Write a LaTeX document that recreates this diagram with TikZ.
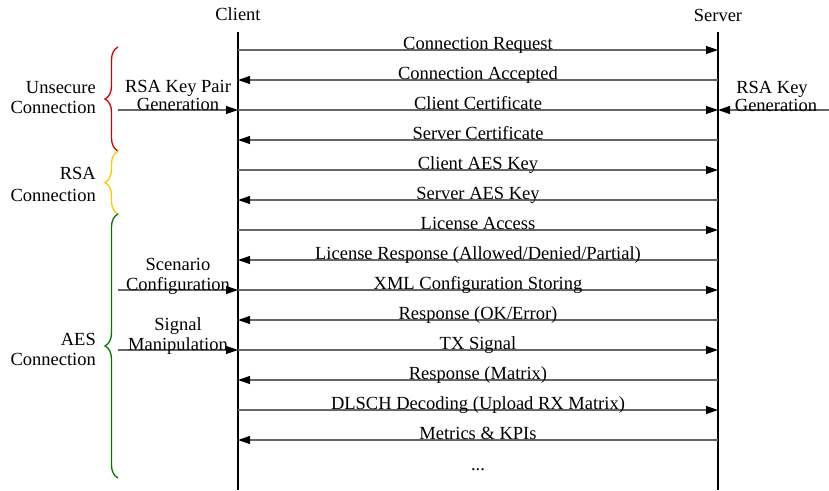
\documentclass[tikz,border=0pt]{standalone}
\usepackage{fontspec}
\setmainfont{Liberation Serif}
\usetikzlibrary{arrows.meta,decorations.pathreplacing}
\begin{document}
\begin{tikzpicture}[x=1pt,y=-1pt,
  lbl/.style={font=\fontsize{18.5}{21}\selectfont, inner sep=0pt},
  msglbl/.style={lbl, midway, anchor=base, yshift=1pt},
  msg/.style={draw=black!60, line width=1.1pt, -{Triangle[length=12pt,width=8pt,color=black]}},
  lifeline/.style={draw=black, line width=1.1pt},
  bracebase/.style={decorate, line width=1.3pt, decoration={brace, amplitude=13pt}}]
\useasboundingbox (0,0) rectangle (829,490);

% lifelines
\node[lbl, anchor=base] (client) at (238,20) {Client};
\node[lbl, anchor=base] (server) at (718,21) {Server};
\coordinate (ctop) at (238,32); \coordinate (cbot) at (238,490);
\coordinate (stop) at (718,32); \coordinate (sbot) at (718,490);
\draw[lifeline] (ctop) -- (cbot);
\draw[lifeline] (stop) -- (sbot);

% message anchor points
\foreach \i/\y in {1/50,2/80,3/110,4/140,5/170,6/200,7/230,8/260,9/290,10/320,11/350,12/380,13/410,14/440}{
  \coordinate (c\i) at (238,\y);
  \coordinate (s\i) at (718,\y);
}

\draw[msg] (c1) -- node[msglbl] (m1) {Connection Request} (s1);
\draw[msg] (s2) -- node[msglbl] (m2) {Connection Accepted} (c2);
\draw[msg] (c3) -- node[msglbl] (m3) {Client Certificate} (s3);
\draw[msg] (s4) -- node[msglbl] (m4) {Server Certificate} (c4);
\draw[msg] (c5) -- node[msglbl] (m5) {Client AES Key} (s5);
\draw[msg] (s6) -- node[msglbl] (m6) {Server AES Key} (c6);
\draw[msg] (c7) -- node[msglbl] (m7) {License Access} (s7);
\draw[msg] (s8) -- node[msglbl] (m8) {License Response (Allowed/Denied/Partial)} (c8);
\draw[msg] (c9) -- node[msglbl] (m9) {XML Configuration Storing} (s9);
\draw[msg] (s10) -- node[msglbl] (m10) {Response (OK/Error)} (c10);
\draw[msg] (c11) -- node[msglbl] (m11) {TX Signal} (s11);
\draw[msg] (s12) -- node[msglbl] (m12) {Response (Matrix)} (c12);
\draw[msg] (c13) -- node[msglbl] (m13) {DLSCH Decoding (Upload RX Matrix)} (s13);
\draw[msg] (s14) -- node[msglbl] (m14) {Metrics \& KPIs} (c14);
\node[lbl, anchor=base] (dots) at (478,470) {...};

% side inputs
\coordinate (inA) at (118,110);
\coordinate (inB) at (118,290);
\coordinate (inC) at (118,350);
\coordinate (inS) at (829,110);
\draw[msg] (inA) -- (c3);
\draw[msg] (inB) -- (c9);
\draw[msg] (inC) -- (c11);
\draw[msg] (inS) -- (s3);
\node[lbl, anchor=base] (ka1) at (178,92) {RSA Key Pair};
\node[lbl, anchor=base] (ka2) at (178,110) {Generation};
\node[lbl, anchor=base] (sc1) at (178,270) {Scenario};
\node[lbl, anchor=base] (sc2) at (178,290) {Configuration};
\node[lbl, anchor=base] (sg1) at (178,330) {Signal};
\node[lbl, anchor=base] (sg2) at (178,350) {Manipulation};
\node[lbl, anchor=base] (ks1) at (772,93) {RSA Key};
\node[lbl, anchor=base] (ks2) at (776,111) {Generation};

% braces
\coordinate (b0) at (118,47);
\coordinate (b1) at (118,151);
\coordinate (b2) at (118,214);
\coordinate (b3) at (118,478);
\draw[bracebase, draw={rgb,255:red,210;green,0;blue,0}] (b1) -- (b0);
\draw[bracebase, draw={rgb,255:red,255;green,200;blue,0}] (b2) -- (b1);
\draw[bracebase, draw={rgb,255:red,0;green,120;blue,0}] (b3) -- (b2);

\node[lbl, anchor=base east] (u1) at (96,93) {Unsecure};
\node[lbl, anchor=base east] (u2) at (96,113) {Connection};
\node[lbl, anchor=base east] (r1) at (96,179) {RSA};
\node[lbl, anchor=base east] (r2) at (96,201) {Connection};
\node[lbl, anchor=base east] (a1) at (96,345) {AES};
\node[lbl, anchor=base east] (a2) at (96,365) {Connection};
\end{tikzpicture}
\end{document}
